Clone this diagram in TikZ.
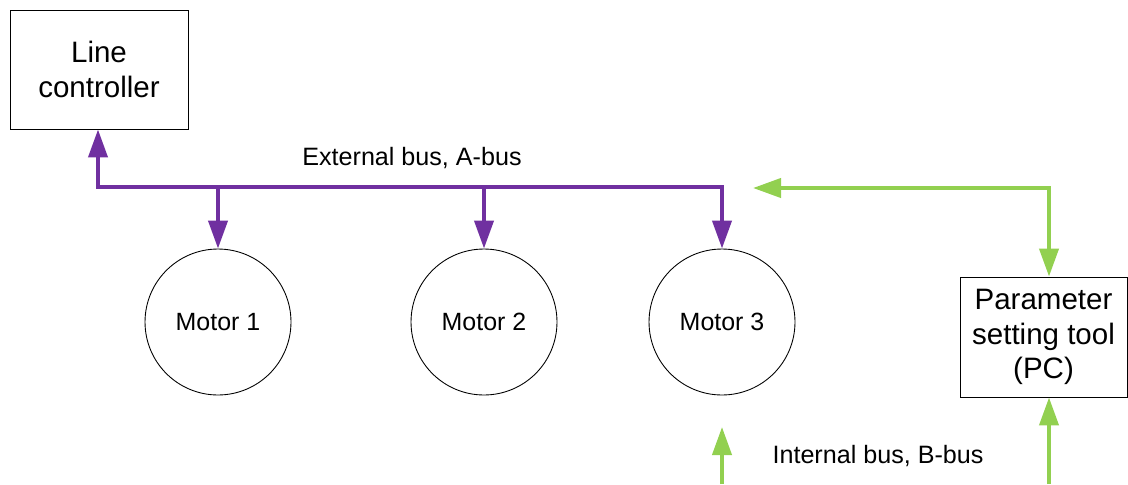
\documentclass[tikz,border=0pt]{standalone}
\usepackage{fontspec}
\setmainfont{Liberation Sans}
\usetikzlibrary{arrows.meta}

\definecolor{abuscol}{HTML}{7030A0}
\definecolor{bbuscol}{HTML}{92D050}

\begin{document}
\begin{tikzpicture}[x=0.02cm,y=-0.02cm,
		bus/.style={line width=0.08cm,-{Triangle[length=0.56cm,width=0.38cm]}},
		busboth/.style={line width=0.08cm,{Triangle[length=0.56cm,width=0.38cm]}-{Triangle[length=0.56cm,width=0.38cm]}}]
				\useasboundingbox (0,0) rectangle (1128,484);

				\begin{scope}[every node/.style={draw,line width=0.5pt,align=center,font=\fontsize{16.8}{19.5}\selectfont}]
					\node[minimum width=3.56cm,minimum height=2.38cm] (ctrl) at (99,69.5) {Line\\controller};
					\node[minimum width=3.34cm,minimum height=2.4cm] (pc) at (1043.5,337) {Parameter\\setting tool\\(PC)};
				\end{scope}

				\begin{scope}[every node/.style={circle,draw,line width=0.5pt,minimum size=2.92cm,font=\fontsize{14.2}{17}\selectfont}]
					\node (m1) at (218,322) {Motor 1};
					\node (m2) at (484,322) {Motor 2};
					\node (m3) at (722,322) {Motor 3};
				\end{scope}

				\coordinate (aleft) at (98,187);
				\coordinate (aright) at (722,187);
				\coordinate (bleft) at (753,188);
				\coordinate (bbot) at (1049,484);
				\coordinate (bm3) at (722,484);
				\coordinate (bm3tip) at (722,427);

				% external bus
				\begin{scope}[draw=abuscol]
					\draw[busboth] (aleft |- ctrl.south) -- (aleft) -- (aright) -- (m3.north);
					\draw[bus] (m1.north |- aleft) -- (m1.north);
					\draw[bus] (m2.north |- aleft) -- (m2.north);
				\end{scope}
				\node[font=\fontsize{14.3}{17}\selectfont] at (412,158) {External bus, A-bus};

				% internal bus
				\begin{scope}[draw=bbuscol]
					\draw[busboth] (bleft) -- (bleft -| 1049,0) -- (1049,0 |- pc.north);
					\draw[bus] (bbot) -- (bbot |- pc.south);
					\draw[bus] (bm3) -- (bm3tip);
				\end{scope}
				\node[font=\fontsize{14.3}{17}\selectfont] at (878,456) {Internal bus, B-bus};
			\end{tikzpicture}
\end{document}
